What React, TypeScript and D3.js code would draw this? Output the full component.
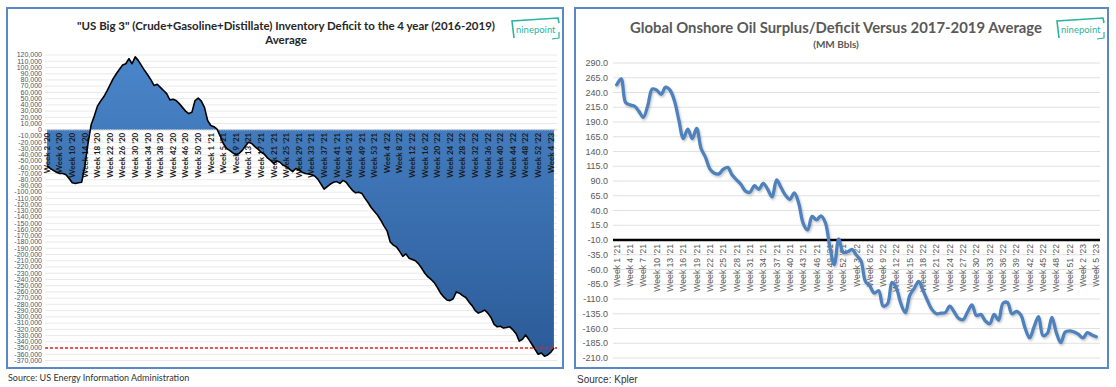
import React from 'react';
import * as d3 from 'd3';

// week labels, e.g. "Week 6 ’20"
const weekRange = (yr: string, from: number, to: number) =>
  d3.range(from, to + 1).map(w => `Week ${w} ’${yr}`);

// ---- left: US Big 3 inventory deficit vs 2016-2019 average ----
const big3Weeks = [
  ...weekRange('20', 2, 53),
  ...weekRange('21', 1, 53),
  ...weekRange('22', 1, 52),
  ...weekRange('23', 1, 5),
];
// thousand-barrel units
const big3Deficit = [
  -58000, -62000, -65000, -68000, -70000, -70000, -72000, -78000, -85000, -86000,
  -85000, -84000, -58000, -22000, 8000, 22000, 38000, 46000, 53000, 62000,
  72000, 82000, 90000, 97000, 104000, 106000, 114000, 106000, 117000, 111000,
  103000, 95000, 88000, 80000, 71000, 73000, 68000, 63000, 58000, 48000,
  49000, 47000, 42000, 36000, 30000, 26000, 28000, 47000, 51000, 46000,
  36000, 15000, 7000, 5000, 1000, -10000, -22000, -30000, -33000, -37000,
  -40000, -38000, -33000, -26000, -20000, -22000, -27000, -31000, -36000, -39000,
  -45000, -49000, -54000, -50000, -52000, -57000, -59000, -63000, -67000, -62000,
  -64000, -68000, -70000, -71000, -72000, -74000, -79000, -87000, -95000, -91000,
  -87000, -84000, -83000, -86000, -81000, -84000, -91000, -97000, -101000, -100000,
  -102000, -110000, -117000, -125000, -131000, -137000, -145000, -154000, -162000, -180000,
  -185000, -188000, -195000, -203000, -199000, -206000, -208000, -210000, -215000, -222000,
  -230000, -236000, -240000, -245000, -253000, -262000, -268000, -273000, -274000, -271000,
  -260000, -262000, -266000, -269000, -276000, -282000, -290000, -294000, -292000, -289000,
  -294000, -301000, -312000, -316000, -315000, -318000, -317000, -316000, -321000, -327000,
  -339000, -336000, -329000, -336000, -344000, -352000, -360000, -358000, -363000, -361000,
  -357000, -350000,
];
const big3Ticks = d3.range(-370000, 120001, 10000);
const big3RefLine = -350000;

// ---- right: global onshore surplus/deficit vs 2017-2019 average ----
const onshoreWeeks = [
  ...weekRange('21', 1, 52),
  ...weekRange('22', 1, 52),
  ...weekRange('23', 1, 5),
];
const onshoreMMbbl = [
  253, 263, 223, 219, 217, 208, 198, 218, 246, 244,
  237, 249, 244, 226, 193, 162, 178, 162, 179, 145,
  130, 110, 103, 102, 110, 113, 100, 92, 84, 73,
  71, 82, 76, 86, 76, 63, 92, 79, 66, 59,
  70, 52, 18, 7, 30, 24, 31, 19, -22, -52,
  -8, -31, -30, -26, -36, -45, -80, -88, -100, -96,
  -122, -118, -82, -92, -118, -133, -104, -92, -80, -96,
  -113, -128, -135, -134, -133, -122, -132, -143, -145, -132,
  -120, -138, -136, -147, -152, -136, -146, -117, -116, -135,
  -131, -137, -160, -176, -157, -140, -172, -168, -141, -167,
  -184, -166, -164, -166, -170, -176, -167, -171, -174,
];
const onshoreTicks = d3.range(-210, 291, 25);
const onshoreBase = -10;

const Logo = ({ x, y }: { x: number; y: number }) => (
  <g transform={`translate(${x},${y})`}>
    <path d="M2,20 L0,3 L46,0 L47,5" fill="none" stroke="#2bb39f" strokeWidth={1.6} />
    <path d="M47,14 L47,20 L40,21" fill="none" stroke="#2bb39f" strokeWidth={1.2} />
    <text x={4} y={15} fontSize={9.5} fill="#2bb39f" fontFamily="Lato, sans-serif">ninepoint</text>
  </g>
);

const fmtInt = (v: number) => (v < 0 ? '-' : '') + Math.abs(v).toLocaleString('en-US');

export default function App() {
  // left chart scales
  const lx = d3.scalePoint<string>().domain(big3Weeks).range([45.5, 555.5]).padding(0.5);
  const ly = d3.scaleLinear().domain([-370000, 120000]).range([360.5, 55]);
  const area = d3
    .area<number>()
    .x((_, i) => lx(big3Weeks[i])!)
    .y0(ly(0))
    .y1(d => ly(d));
  const lline = d3
    .line<number>()
    .x((_, i) => lx(big3Weeks[i])!)
    .y(d => ly(d));

  // right chart scales
  const rx = d3.scalePoint<string>().domain(onshoreWeeks).range([614.5, 1098.5]).padding(0.5);
  const ry = d3.scaleLinear().domain([-210, 290]).range([358, 63]);
  const rline = d3
    .line<number>()
    .x((_, i) => rx(onshoreWeeks[i])!)
    .y(d => ry(d))
    .curve(d3.curveCatmullRom.alpha(0.5));

  return (
    <svg width={1116} height={387} style={{ position: 'absolute', left: 0, top: 0, background: '#fff' }}
      fontFamily="Lato, 'Liberation Sans', sans-serif">
      <defs>
        <linearGradient id="big3Fill" gradientUnits="userSpaceOnUse" x1={0} y1={55} x2={0} y2={362}>
          <stop offset="0" stopColor="#4a86ca" />
          <stop offset="1" stopColor="#2b5a97" />
        </linearGradient>
        <filter id="lineShadow" x="-5%" y="-5%" width="110%" height="115%">
          <feDropShadow dx={1} dy={1.5} stdDeviation={1} floodColor="#000" floodOpacity={0.25} />
        </filter>
      </defs>

      {/* ---------- left panel ---------- */}
      <rect x={7} y={8} width={556} height={360} fill="#fff" stroke="#5b87c7" strokeWidth={2} />
      <text x={286} y={30} textAnchor="middle" fontWeight="bold" fontSize={11.5} fill="#262626"
        textLength={418} lengthAdjust="spacingAndGlyphs">
        "US Big 3" (Crude+Gasoline+Distillate) Inventory Deficit to the 4 year (2016-2019)
      </text>
      <text x={286} y={44} textAnchor="middle" fontWeight="bold" fontSize={11.5} fill="#262626">Average</text>
      <Logo x={512} y={18} />

      {big3Ticks.map(t => (
        <g key={t}>
          <line x1={45} x2={557} y1={ly(t)} y2={ly(t)} stroke="#e3e3e3" strokeWidth={0.8} />
          <text x={42} y={ly(t)} dy="0.33em" textAnchor="end" fontSize={7} fill="#44546a"
            fontFamily="'Liberation Sans Narrow', 'Liberation Sans', sans-serif">{fmtInt(t)}</text>
        </g>
      ))}
      <path d={area(big3Deficit)!} fill="url(#big3Fill)" />
      <line x1={45} x2={557} y1={ly(0)} y2={ly(0)} stroke="#c9c9c9" strokeWidth={1.2} strokeDasharray="1.2,1.2" />
      {big3Weeks.map((w, i) =>
        i % 4 === 0 ? (
          <text key={w} transform={`translate(${lx(w)},${ly(0) + 3}) rotate(-90)`} dy="0.35em"
            textAnchor="end" fontSize={8} fontWeight="bold" fill="#1a1a1a">{w}</text>
        ) : null
      )}
      <path d={lline(big3Deficit)!} fill="none" stroke="#000" strokeWidth={1.6} strokeLinejoin="round" />
      <line x1={45} x2={557} y1={ly(big3RefLine)} y2={ly(big3RefLine)} stroke="#e02424" strokeWidth={1.4}
        strokeDasharray="3,2" />
      <text x={8} y={381} fontSize={9} fill="#333">Source: US Energy Information Administration</text>

      {/* ---------- right panel ---------- */}
      <rect x={575} y={8} width={533} height={360} fill="#fff" stroke="#5b87c7" strokeWidth={2} />
      <text x={836} y={33} textAnchor="middle" fontWeight="bold" fontSize={15} fill="#595959"
        textLength={412} lengthAdjust="spacingAndGlyphs">
        Global Onshore Oil Surplus/Deficit Versus 2017-2019 Average
      </text>
      <text x={836} y={48} textAnchor="middle" fontWeight="bold" fontSize={10} fill="#595959">(MM Bbls)</text>
      <Logo x={1057} y={18} />

      {onshoreTicks.map(t => (
        <g key={t}>
          <line x1={613} x2={1100} y1={ry(t)} y2={ry(t)} stroke="#d9d9d9" strokeWidth={0.8} />
          <text x={608} y={ry(t)} dy="0.35em" textAnchor="end" fontSize={9} fill="#595959"
            fontFamily="'Liberation Sans', sans-serif">{t.toFixed(1)}</text>
        </g>
      ))}
      <line x1={613} x2={1100} y1={ry(onshoreBase)} y2={ry(onshoreBase)} stroke="#000" strokeWidth={2.5} />
      {onshoreWeeks.map((w, i) =>
        i % 3 === 0 ? (
          <text key={w} transform={`translate(${rx(w)},${ry(onshoreBase) + 4}) rotate(-90)`} dy="0.35em"
            textAnchor="end" fontSize={8.6} fill="#595959" fontFamily="'Liberation Sans', sans-serif">{w}</text>
        ) : null
      )}
      <path d={rline(onshoreMMbbl)!} fill="none" stroke="#4f81bd" strokeWidth={3.3} strokeLinejoin="round"
        strokeLinecap="round" filter="url(#lineShadow)" />
      <text x={577} y={383} fontSize={10} fill="#333" fontFamily="'Liberation Sans', sans-serif">Source: Kpler</text>
    </svg>
  );
}
